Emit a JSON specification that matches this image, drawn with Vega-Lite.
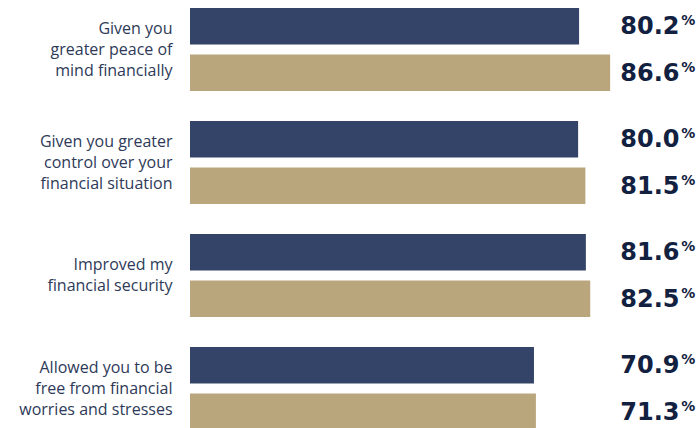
{
  "$schema": "https://vega.github.io/schema/vega-lite/v6.json",
  "width": 506,
  "height": 428,
  "autosize": {"type": "none"},
  "padding": {"left": 190, "top": 0, "right": 0, "bottom": 0},
  "background": "white",
  "config": {"view": {"stroke": null}},
  "data": {
    "values": [
      {"cat": "Given you|greater peace of|mind financially", "series": "A", "value": 80.2},
      {"cat": "Given you|greater peace of|mind financially", "series": "B", "value": 86.6},
      {"cat": "Given you greater|control over your|financial situation", "series": "A", "value": 80.0},
      {"cat": "Given you greater|control over your|financial situation", "series": "B", "value": 81.5},
      {"cat": "Improved my|financial security", "series": "A", "value": 81.6},
      {"cat": "Improved my|financial security", "series": "B", "value": 82.5},
      {"cat": "Allowed you to be|free from financial|worries and stresses", "series": "A", "value": 70.9},
      {"cat": "Allowed you to be|free from financial|worries and stresses", "series": "B", "value": 71.3}
    ]
  },
  "encoding": {
    "y": {
      "field": "cat",
      "type": "nominal",
      "sort": null,
      "scale": {"range": [-7, 445], "paddingInner": 0, "paddingOuter": 0},
      "axis": {
        "title": null,
        "domain": false,
        "ticks": false,
        "labelPadding": 18,
        "labelExpr": "split(datum.label, '|')",
        "labelFont": "Open Sans",
        "labelFontSize": 16,
        "labelLineHeight": 21,
        "labelColor": "#2e3a58",
        "labelAlign": "right",
        "labelBaseline": "middle",
        "labelLimit": 0,
        "labelOffset": {"condition": {"test": "indexof(datum.label, 'Improved') >= 0", "value": -10.5}, "value": -21}
      }
    },
    "yOffset": {
      "field": "series",
      "type": "nominal",
      "scale": {"paddingInner": 0.21, "paddingOuter": 0.32}
    }
  },
  "layer": [
    {
      "mark": {"type": "bar"},
      "encoding": {
        "x": {
          "field": "value",
          "type": "quantitative",
          "scale": {"domain": [0, 104.3], "nice": false, "zero": true},
          "axis": null
        },
        "color": {
          "field": "series",
          "type": "nominal",
          "scale": {"domain": ["A", "B"], "range": ["#344468", "#b9a67d"]},
          "legend": null
        }
      }
    },
    {
      "mark": {"type": "text", "align": "left", "baseline": "middle", "font": "DejaVu Sans", "fontWeight": "bold", "fontSize": 24, "color": "#12213f", "dy": 1},
      "encoding": {
        "x": {"datum": 88.7, "type": "quantitative"},
        "text": {"field": "value", "type": "quantitative", "format": ".1f"}
      }
    },
    {
      "mark": {"type": "text", "align": "left", "baseline": "middle", "font": "DejaVu Sans", "fontWeight": "bold", "fontSize": 14, "color": "#12213f", "dx": 61, "dy": -5},
      "encoding": {
        "x": {"datum": 88.7, "type": "quantitative"},
        "text": {"value": "%"}
      }
    }
  ]
}
